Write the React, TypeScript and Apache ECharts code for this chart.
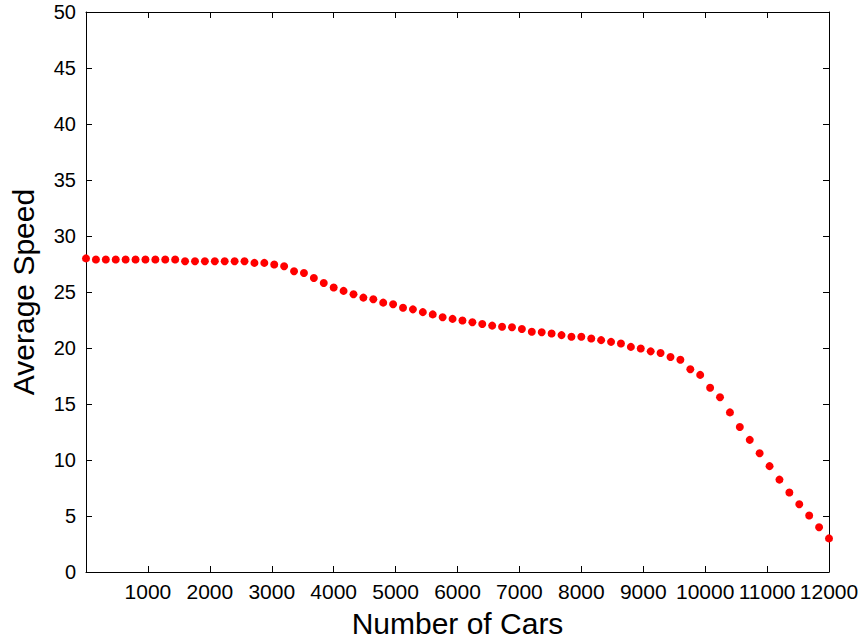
import React, { useEffect, useRef } from "react";
import * as echarts from "echarts";

// Number of cars: 0 to 12000 in steps of 160
const carCounts: number[] = Array.from({ length: 76 }, (_, i) => i * 160);

// Measured average speed for each car count
const averageSpeed: number[] = [
  28.0, 27.9, 27.9, 27.9, 27.9, 27.9, 27.9, 27.9, 27.9, 27.9,
  27.75, 27.75, 27.75, 27.75, 27.75, 27.75, 27.75, 27.6, 27.6, 27.45,
  27.3, 26.85, 26.7, 26.25, 25.8, 25.4, 25.1, 24.8, 24.5, 24.35,
  24.05, 23.9, 23.6, 23.45, 23.2, 23.0, 22.75, 22.6, 22.45, 22.3,
  22.15, 22.0, 21.9, 21.85, 21.7, 21.45, 21.4, 21.3, 21.15, 21.0,
  21.0, 20.85, 20.7, 20.55, 20.4, 20.1, 19.95, 19.7, 19.55, 19.2,
  18.95, 18.1, 17.6, 16.45, 15.6, 14.25, 12.95, 11.8, 10.6, 9.45,
  8.25, 7.1, 6.05, 5.05, 4.0, 3.0,
];

const X_MIN = 0;
const X_MAX = 12000;
const X_STEP = 1000;
const Y_MIN = 0;
const Y_MAX = 50;
const Y_STEP = 5;

const FONT = '"Liberation Sans", Arial, sans-serif';

export default function App() {
  const ref = useRef<HTMLDivElement>(null);

  useEffect(() => {
    if (!ref.current) return;
    const chart = echarts.init(ref.current, null, { renderer: "svg" });

    const axisLine = { show: true, onZero: false, lineStyle: { color: "#000", width: 1 } };
    const tick = { show: true, inside: true, length: 6, lineStyle: { color: "#000", width: 1 } };

    chart.setOption({
      animation: false,
      backgroundColor: "#fff",
      grid: { left: 86, top: 12, right: 36, bottom: 68, containLabel: false },
      xAxis: [
        {
          type: "value",
          position: "bottom",
          min: X_MIN,
          max: X_MAX,
          interval: X_STEP,
          name: "Number of Cars",
          nameLocation: "middle",
          nameGap: 36,
          nameTextStyle: { color: "#000", fontSize: 30, fontFamily: FONT },
          axisLine,
          axisTick: tick,
          splitLine: { show: false },
          axisLabel: {
            color: "#000",
            fontSize: 21,
            fontFamily: FONT,
            margin: 9,
            showMinLabel: false,
            formatter: (v: number) => (v === 0 ? "" : String(v)),
          },
        },
        {
          type: "value",
          position: "top",
          min: X_MIN,
          max: X_MAX,
          interval: X_STEP,
          axisLine,
          axisTick: tick,
          splitLine: { show: false },
          axisLabel: { show: false },
        },
      ],
      yAxis: [
        {
          type: "value",
          position: "left",
          min: Y_MIN,
          max: Y_MAX,
          interval: Y_STEP,
          name: "Average Speed",
          nameLocation: "middle",
          nameGap: 48,
          nameRotate: 90,
          nameTextStyle: { color: "#000", fontSize: 30, fontFamily: FONT },
          axisLine,
          axisTick: tick,
          splitLine: { show: false },
          axisLabel: { color: "#000", fontSize: 20, fontFamily: FONT, margin: 10 },
        },
        {
          type: "value",
          position: "right",
          min: Y_MIN,
          max: Y_MAX,
          interval: Y_STEP,
          axisLine,
          axisTick: tick,
          splitLine: { show: false },
          axisLabel: { show: false },
        },
      ],
      series: [
        {
          type: "scatter",
          xAxisIndex: 0,
          yAxisIndex: 0,
          data: carCounts.map((c, i) => [c, averageSpeed[i]]),
          symbol: "circle",
          symbolSize: 8,
          itemStyle: { color: "#ff0000", opacity: 1 },
          clip: false,
        },
      ],
    });

    return () => chart.dispose();
  }, []);

  return (
    <div
      ref={ref}
      style={{ position: "fixed", left: 0, top: 0, width: 865, height: 643, background: "#fff" }}
    />
  );
}
